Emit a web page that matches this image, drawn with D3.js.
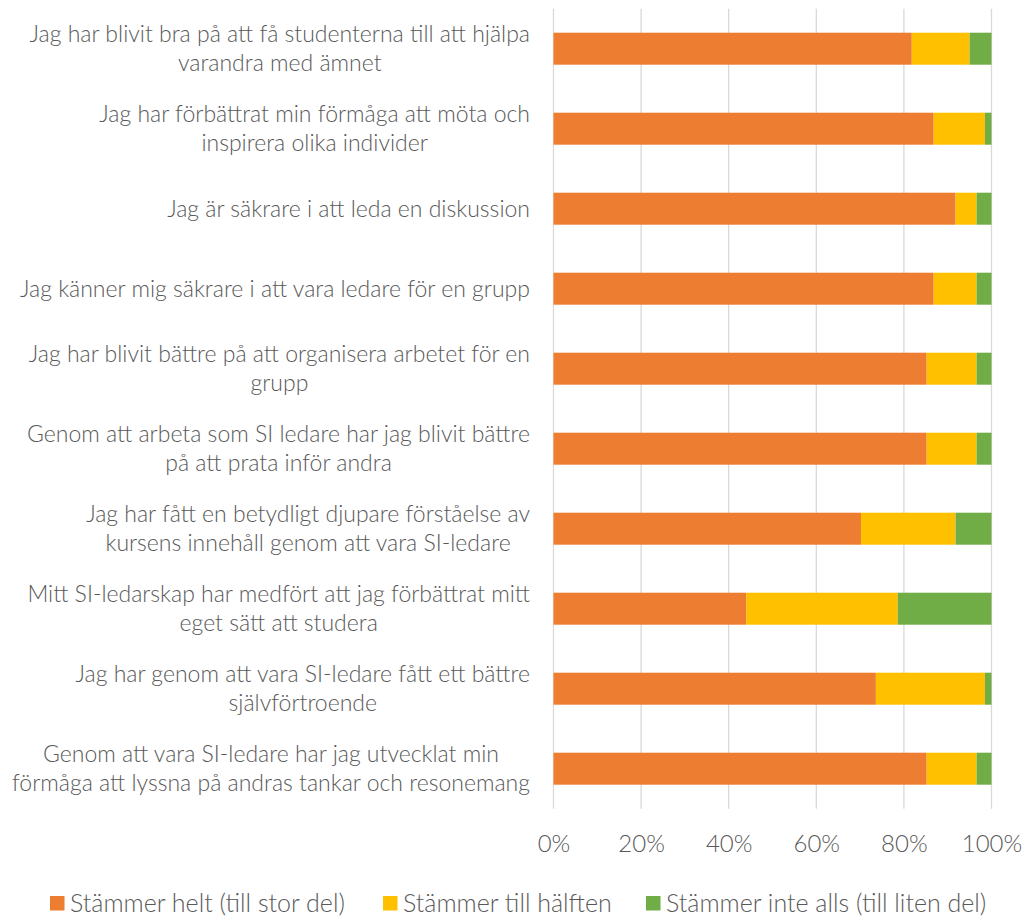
<!DOCTYPE html>
<html lang="sv">
<head>
<meta charset="UTF-8">
<title>SI-ledare</title>
<script src="https://cdn.jsdelivr.net/npm/d3@7"></script>
<style>
  body { margin: 0; background: #fff; }
  svg { display: block; font-family: Lato, "Open Sans", sans-serif; font-weight: 300; }
</style>
</head>
<body>
<svg width="1032" height="916"></svg>
<script>
// kategorier (radbrytning med \n som i originalet)
var categories = [
  "Jag har blivit bra på att få studenterna till att hjälpa\nvarandra med ämnet",
  "Jag har förbättrat min förmåga att möta och\ninspirera olika individer",
  "Jag är säkrare i att leda en diskussion",
  "Jag känner mig säkrare i att vara ledare för en grupp",
  "Jag har blivit bättre på att organisera arbetet för en\ngrupp",
  "Genom att arbeta som SI ledare har jag blivit bättre\npå att prata inför andra",
  "Jag har fått en betydligt djupare förståelse av\nkursens innehåll genom att vara SI-ledare",
  "Mitt SI-ledarskap har medfört att jag förbättrat mitt\neget sätt att studera",
  "Jag har genom att vara SI-ledare fått ett bättre\nsjälvförtroende",
  "Genom att vara SI-ledare har jag utvecklat min\nförmåga att lyssna på andras tankar och resonemang"
];

var seriesNames = ["Stämmer helt (till stor del)", "Stämmer till hälften", "Stämmer inte alls (till liten del)"];
var seriesColors = ["#ED7D31", "#FFC000", "#70AD47"];

var helt    = [81.8, 86.8, 91.8, 86.8, 85.2, 85.2, 70.2, 44.0, 73.6, 85.2];
var halften = [13.2, 11.7,  4.8,  9.8, 11.4, 11.4, 21.6, 34.6, 24.9, 11.4];
var inte    = [ 5.0,  1.5,  3.4,  3.4,  3.4,  3.4,  8.2, 21.4,  1.5,  3.4];

var tickValues = [0, 20, 40, 60, 80, 100];

var svg = d3.select("svg");
var plotLeft = 553.5, plotRight = 991.5, plotTop = 8.7, plotBottom = 808.7;

var x = d3.scaleLinear().domain([0, 100]).range([plotLeft, plotRight]);
var y = d3.scaleBand().domain(d3.range(categories.length)).range([plotTop, plotBottom]).paddingInner(0.6).paddingOuter(0.3);

// rutnät
svg.append("g")
  .selectAll("line")
  .data(tickValues)
  .enter().append("line")
  .attr("x1", function (d) { return x(d); })
  .attr("x2", function (d) { return x(d); })
  .attr("y1", plotTop)
  .attr("y2", plotBottom)
  .attr("stroke", "#D9D9D9")
  .attr("stroke-width", 1.3);

// staplar
var rows = categories.map(function (c, i) {
  return { i: i, helt: helt[i], halften: halften[i], inte: inte[i] };
});
var stack = d3.stack().keys(["helt", "halften", "inte"]);
var layers = stack(rows);

svg.append("g")
  .selectAll("g")
  .data(layers)
  .enter().append("g")
  .attr("fill", function (d, k) { return seriesColors[k]; })
  .selectAll("rect")
  .data(function (d) { return d; })
  .enter().append("rect")
  .attr("x", function (d) { return x(d[0]); })
  .attr("width", function (d) { return x(d[1]) - x(d[0]); })
  .attr("y", function (d) { return y(d.data.i); })
  .attr("height", y.bandwidth());

// x-axel
var xAxis = svg.append("g")
  .attr("transform", "translate(0," + plotBottom + ")")
  .call(d3.axisBottom(x).tickValues(tickValues).tickSize(0).tickPadding(26)
    .tickFormat(function (d) { return d + "%"; }));
xAxis.select(".domain").remove();
xAxis.selectAll("text")
  .attr("fill", "#595959")
  .style("font-size", "24px")
  .style("font-family", "Lato, 'Open Sans', sans-serif")
  .style("font-weight", 300);

// kategorietiketter
var labelRight = 530, lineH = 29.5;
var labels = svg.append("g")
  .selectAll("text")
  .data(categories)
  .enter().append("text")
  .attr("fill", "#595959")
  .style("font-size", "23px")
  .attr("text-anchor", "middle");

labels.each(function (d, i) {
  var t = d3.select(this);
  var lines = d.split("\n");
  var cy = y(i) + y.bandwidth() / 2;
  var y0 = cy - (lines.length - 1) * lineH / 2 + 8;
  lines.forEach(function (ln, j) {
    t.append("tspan").attr("y", y0 + j * lineH).text(ln);
  });
  var w = 0;
  t.selectAll("tspan").each(function () { w = Math.max(w, this.getComputedTextLength()); });
  t.selectAll("tspan").attr("x", labelRight - w / 2);
});

// förklaring
var legendX = [50, 383, 646];
var legend = svg.append("g")
  .selectAll("g")
  .data(seriesNames)
  .enter().append("g")
  .attr("transform", function (d, k) { return "translate(" + legendX[k] + ",896)"; });
legend.append("rect").attr("width", 14.5).attr("height", 14.5)
  .attr("fill", function (d, k) { return seriesColors[k]; });
legend.append("text").attr("x", 20).attr("y", 15.5)
  .attr("fill", "#595959").style("font-size", "25px")
  .text(function (d) { return d; });
</script>
</body>
</html>
